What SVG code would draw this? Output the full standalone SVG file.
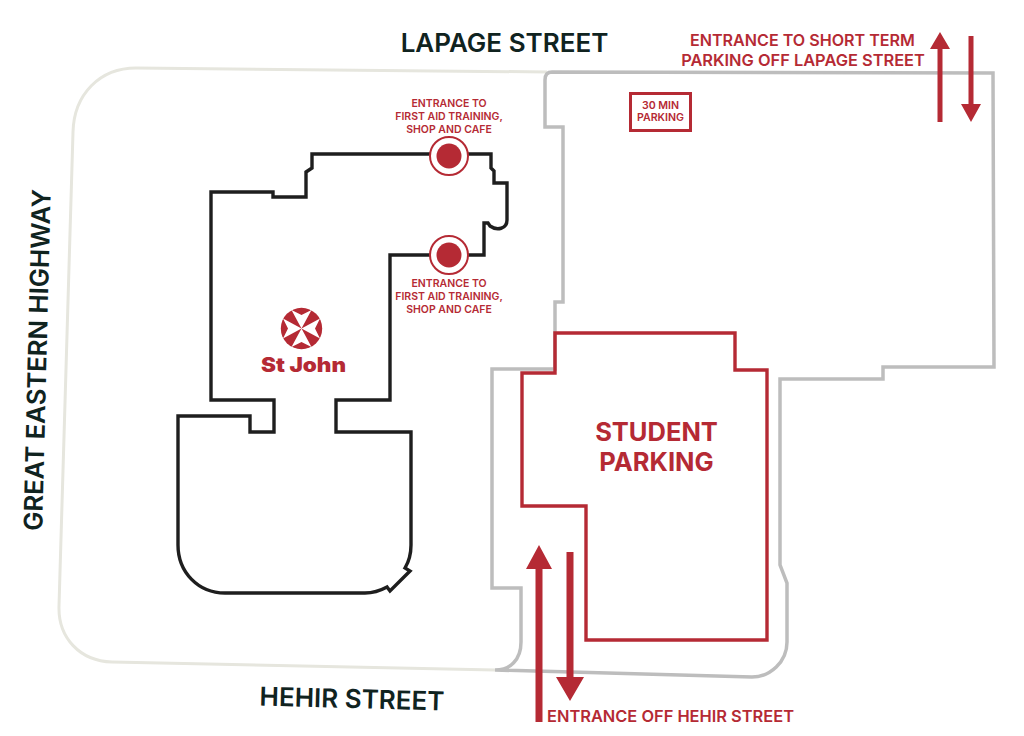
<svg xmlns="http://www.w3.org/2000/svg" width="1024" height="736" viewBox="0 0 1024 736">
<style>
text{font-family:"Inter","Liberation Sans",sans-serif;text-anchor:middle}
.st{font-size:26px;font-weight:600;fill:#10231f}
.r{fill:#b52a34;font-weight:600}
.sm{font-size:10.500px}
.tg{font-size:10.600px}
.md{font-size:16.400px}
.lg{font-size:25.500px;font-weight:700}
.ln{fill:none;stroke-linejoin:miter}
.ar{fill:#b52a34;stroke:none}
</style>
<rect width="1024" height="736" fill="#fff"/>
<g id="site">
<path class="ln" stroke="#e6e6de" stroke-width="3" d="M495 670L112 662C80 661 58 638 59 606L73 132C74 94 100 68 136 68L547 72"/>
<path class="ln" stroke="#bdbdbd" stroke-width="3.500" d="M552 72L993 73L994 367L883 367L883 379L780 379L780 565L787 583L787 642C787 662 770 677 752 677L495 670C510 670 521 660 521 642L521 588L492 588L492 369L555 369L555 302L563 302L563 127L545 127L545 80Q545 72 552 72Z"/>
</g>
<g id="building">
<path class="ln" stroke="#1e1e1e" stroke-width="3.400" d="M211 192L273 192L273 197L306 197L306 172L312 168L312 154L491 154L491 168L494 171L494 183L507 183L507 220C507 229 497 231 490 226L488 223L484 223L484 255L390 255L390 400L336 400L336 432L411 432L411 545Q411 558 405 568L410 571L390 591L387 587Q376 593 365 593L225 593C198 593 178 572 178 545L178 416L250 416L250 432L274 432L274 400L211 400Z"/>
</g>
<g id="student-parking">
<path class="ln" stroke="#b52a34" stroke-width="3.400" d="M555 333L735 333L735 370L767 370L767 640L586 640L586 506L522 506L522 373L555 373Z"/>
<text class="r lg" x="656.500" y="441">STUDENT</text>
<text class="r lg" x="656.500" y="471">PARKING</text>
</g>
<g id="entrance-top">
<circle cx="449" cy="156" r="19" fill="#fff" stroke="#b52a34" stroke-width="2"/>
<circle cx="449" cy="156" r="12.500" fill="#b52a34"/>
<text class="r sm" x="449" y="107">ENTRANCE TO</text>
<text class="r sm" x="449" y="120">FIRST AID TRAINING,</text>
<text class="r sm" x="449" y="132.500">SHOP AND CAFE</text>
</g>
<g id="entrance-bottom">
<circle cx="449" cy="255" r="19" fill="#fff" stroke="#b52a34" stroke-width="2"/>
<circle cx="449" cy="255" r="12.500" fill="#b52a34"/>
<text class="r sm" x="449" y="287">ENTRANCE TO</text>
<text class="r sm" x="449" y="300">FIRST AID TRAINING,</text>
<text class="r sm" x="449" y="312.500">SHOP AND CAFE</text>
</g>
<g id="logo">
<circle cx="301.500" cy="328.500" r="20.700" fill="#b52a34"/>
<g transform="translate(301.500 328.500)">
<path fill="#fff" d="M0 0L-10 -18.500L0 -13.500L10 -18.500ZM0 0L18.500 -10L13.500 0L18.500 10ZM0 0L10 18.500L0 13.500L-10 18.500ZM0 0L-18.500 10L-13.500 0L-18.500 -10Z"/>
<path stroke="#b52a34" stroke-width=".8" fill="none" opacity=".7" d="M-3 -3L-9 -9M3 -3L9 -9M3 3L9 9M-3 3L-9 9"/>
</g>
<text x="303.500" y="372" textLength="85" lengthAdjust="spacingAndGlyphs" style="font-size:20px;font-weight:900;fill:#b52a34">St John</text>
</g>
<g id="short-term">
<rect x="630.500" y="93.500" width="60" height="37" fill="#fff" stroke="#b52a34" stroke-width="3"/>
<text class="r tg" x="660.500" y="109">30 MIN</text>
<text class="r tg" x="660.500" y="121">PARKING</text>
</g>
<g id="connectors">
<path class="ar" d="M937.500 122L937.500 49L930 49L940 32L950 49L942.500 49L942.500 122Z"/>
<path class="ar" d="M968.500 36L973.500 36L973.500 104L981 104L971 122L961 104L968.500 104Z"/>
<path class="ar" d="M535.500 722L535.500 569L526 569L539 545L552 569L542.500 569L542.500 722Z"/>
<path class="ar" d="M566.500 552L573.500 552L573.500 677L584 677L570 701L556 677L566.500 677Z"/>
</g>
<g id="labels">
<text class="st" x="504.500" y="52">LAPAGE STREET</text>
<text class="st" x="352" y="708" transform="rotate(1.500 352 699)">HEHIR STREET</text>
<text class="st" style="font-size:25.700px" x="37" y="360" transform="rotate(-88.570 37 360)" dy="9.400">GREAT EASTERN HIGHWAY</text>
<text class="r md" style="font-size:16.100px" x="802.500" y="46">ENTRANCE TO SHORT TERM</text>
<text class="r md" x="803" y="65.500">PARKING OFF LAPAGE STREET</text>
<text class="r md" x="670.500" y="721.500">ENTRANCE OFF HEHIR STREET</text>
</g>
</svg>
